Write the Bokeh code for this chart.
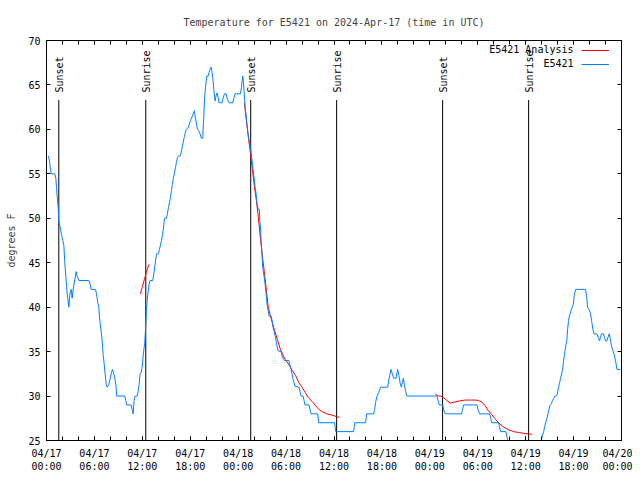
from math import pi
from bokeh.plotting import figure
from bokeh.models import FixedTicker, LinearAxis, Legend, LegendItem, Range1d, Label
from bokeh.core.properties import value
from bokeh.embed import file_html
from bokeh.resources import INLINE

# ---- data (x = hours since 2024-04-17 00:00 UTC) ----
obs_hours = [0.2, 0.25, 0.38, 0.5, 0.59, 1.04, 1.17, 1.25, 1.33, 1.46, 1.54, 1.75, 1.88, 2.04, 2.17, 2.29, 2.46, 2.59, 2.67, 2.8,
             2.92, 3.09, 3.21, 3.34, 3.55, 3.71, 3.84, 4.05, 5.3, 5.5, 5.59, 6.13, 6.26, 6.42, 6.55, 6.67, 6.84, 6.97, 7.09, 7.22,
             7.34, 7.47, 7.6, 7.8, 7.93, 8.1, 8.26, 8.43, 8.55, 8.68, 8.8, 9.8, 9.93, 10.05, 10.6, 10.72, 10.85, 10.97, 11.1, 11.35,
             11.47, 11.6, 11.72, 11.85, 11.97, 12.1, 12.3, 12.43, 12.5, 12.6, 12.73, 12.85, 12.97, 13.3, 13.43, 13.55, 13.68, 13.8, 14.0, 14.14,
             14.27, 14.4, 14.52, 14.64, 14.77, 15.02, 15.14, 15.27, 15.52, 15.64, 15.77, 15.9, 16.02, 16.15, 16.27, 16.4, 16.52, 16.77, 16.9, 17.02,
             17.15, 17.27, 17.4, 17.52, 17.73, 17.86, 18.02, 18.27, 18.52, 18.65, 18.77, 18.9, 19.1, 19.23, 19.4, 19.56, 19.69, 19.77, 19.9, 20.07,
             20.23, 20.36, 20.49, 20.61, 20.74, 20.86, 20.99, 21.11, 21.24, 21.36, 21.49, 21.61, 21.99, 22.11, 22.28, 22.49, 22.61, 22.86, 23.32, 23.45,
             23.62, 24.28, 24.41, 24.49, 24.57, 24.66, 24.74, 24.87, 24.99, 25.12, 25.24, 25.37, 25.49, 25.62, 25.74, 25.87, 25.99, 26.12, 26.24, 26.37,
             26.53, 26.66, 26.7, 26.82, 26.87, 27.0, 27.07, 27.24, 27.37, 27.5, 27.62, 27.75, 27.87, 28.12, 28.25, 28.37, 28.5, 28.62, 28.75, 28.87,
             29.0, 29.37, 29.5, 29.7, 29.83, 30.33, 30.45, 30.62, 30.75, 30.87, 31.0, 31.12, 31.62, 31.75, 31.87, 32.12, 32.25, 32.37, 32.87, 33.0,
             33.12, 33.96, 34.08, 36.08, 36.21, 38.46, 38.59, 39.96, 40.09, 40.96, 41.09, 41.21, 41.39, 41.59, 41.84, 42.72, 42.84, 42.97, 43.14, 43.3,
             43.47, 43.76, 43.89, 43.97, 44.14, 44.27, 44.43, 44.56, 44.68, 44.81, 44.97, 45.14, 48.9, 49.02, 49.19, 49.6, 49.72, 49.94, 51.98, 52.1,
             52.23, 53.9, 54.03, 54.23, 55.48, 55.61, 55.73, 56.61, 56.73, 56.86, 57.53, 57.66, 57.78, 58.2, 58.8, 61.0, 61.5, 61.95, 62.08, 62.25,
             62.37, 62.49, 62.66, 62.79, 62.91, 63.08, 63.2, 63.37, 63.5, 63.66, 63.83, 63.96, 64.12, 64.25, 64.37, 64.5, 64.62, 64.75, 64.87, 64.99,
             65.17, 65.25, 65.37, 65.5, 65.67, 65.83, 65.96, 66.08, 66.25, 67.5, 67.62, 67.75, 67.92, 68.09, 68.25, 68.42, 68.55, 68.92, 69.09, 69.25,
             69.37, 69.5, 69.75, 69.87, 70.0, 70.17, 70.3, 70.46, 70.58, 70.75, 70.93, 71.09, 71.25, 71.43, 71.84]
obs_temp = [57, 57, 56.4, 55.5, 55, 55, 54.5, 53.5, 52.5, 51.3, 49.7, 48.8, 48.2, 47.5, 47, 45, 43, 41.5, 41, 40,
            41.5, 42, 41, 42, 43.1, 44, 43.5, 43, 43, 42.5, 42, 42, 41.5, 40.5, 40, 38.5, 37.3, 36.2, 34.7, 33.6,
            32.5, 31.3, 31, 31.3, 31.8, 32.5, 33, 32.5, 32, 31.3, 30, 30, 29.5, 29, 29, 28.5, 28, 29.5, 30, 30,
            30.5, 31.3, 32.5, 32.6, 33.2, 34.5, 36, 38, 39.6, 40.7, 41.8, 42.6, 43, 43, 43.7, 44.5, 45.4, 46, 46, 46.5,
            47, 47.5, 48.2, 48.8, 50, 50, 50.5, 51.2, 52.3, 53.1, 53.8, 54.6, 55.1, 55.7, 56.3, 56.8, 57, 57, 57.6, 58.1,
            58.7, 59.2, 59.7, 60, 60.2, 60.5, 61, 61.5, 62.1, 61.3, 60.7, 60, 59.8, 59.5, 59, 59, 61.3, 63.2, 64.7, 66,
            66, 66.4, 66.8, 67, 66.4, 65.5, 64.1, 63.2, 63.8, 64.1, 63.6, 63, 63, 63.5, 64, 64, 63.5, 63, 63, 63.5,
            64, 64, 64.7, 65.5, 66, 65.3, 64.3, 62.5, 61.5, 60.4, 59.5, 58.7, 58.2, 57.4, 56.5, 55.5, 54.6, 53.5, 52.8, 51.6,
            51, 51, 49.7, 48.8, 47.5, 45.8, 44.5, 43.5, 42.6, 41.5, 40.3, 39.6, 39, 39, 38.5, 37.7, 37.3, 36.8, 36.2, 35.6,
            35.1, 35, 34.5, 34.1, 34, 34, 33.6, 33, 32.5, 31.9, 31.5, 31.1, 31, 30.5, 30, 30, 29.5, 29, 29, 28.5,
            28, 28, 27, 27, 26, 26, 27, 27, 28, 28, 28.5, 29.3, 30, 30.4, 31, 31, 31.7, 32.3, 33, 32.5,
            32, 32, 32.6, 33, 32.3, 31.5, 31, 31.5, 32, 31.3, 30.5, 30, 30, 29.5, 29, 29, 28.5, 28, 28, 28.5,
            29, 29, 28.5, 28, 28, 27.6, 27, 27, 26.5, 26, 26, 25.4, 25, 24, 23, 23, 24, 25, 25.5, 26,
            26.5, 27, 27.5, 28, 28.5, 29, 29.1, 29.5, 29.7, 30, 30, 30.2, 31, 31.5, 32, 32.5, 33, 34, 34.7, 35.5,
            36.4, 37.5, 38.5, 39.1, 39.6, 40, 40.3, 41.3, 42, 42, 41.3, 40, 39.8, 39.4, 38.5, 37.5, 37, 37, 36.6, 36.2,
            36.6, 37, 37, 36.6, 36.2, 36.2, 36.6, 37, 36.5, 35.6, 35.1, 34.6, 34, 33, 33]

an1_hours = [11.76, 12.0, 12.25, 12.5, 12.81]
an1_temp = [41.5, 42.3, 43.1, 43.9, 44.8]
an2_hours = [24.78, 25.03, 25.28, 25.53, 25.78, 26.03, 26.28, 26.53, 26.78, 27.0, 27.2, 27.5, 27.75, 28.1, 28.45, 28.9, 29.3,
             29.9, 30.3, 30.75, 31.2, 31.6, 32.0, 32.4, 32.8, 33.25, 33.7, 34.1, 34.5, 35.1, 35.75, 36.3, 36.7]
an2_temp = [63.0, 61.0, 59.1, 57.4, 55.5, 53.6, 52.0, 50.1, 47.8, 46.0, 44.5, 42.2, 40.1, 38.8, 37.7, 36.4, 35.2,
            34.1, 33.6, 32.9, 32.3, 31.5, 31.0, 30.4, 29.8, 29.4, 28.9, 28.5, 28.25, 28.0, 27.85, 27.7, 27.6]
an3_hours = [48.69, 49.1, 49.4, 49.73, 50.15, 50.56, 50.98, 51.4, 52.03, 52.44, 53.07, 53.7, 54.1, 54.53, 54.94, 55.36,
             55.78, 56.2, 56.61, 57.03, 57.45, 57.86, 58.49, 59.11, 59.74, 60.79]
an3_temp = [30.2, 30.0, 30.0, 29.8, 29.5, 29.2, 29.3, 29.4, 29.5, 29.55, 29.55, 29.55, 29.5, 29.3, 28.9, 28.3,
            27.9, 27.4, 27.0, 26.65, 26.4, 26.2, 26.0, 25.9, 25.8, 25.7]

sun_hours = [1.54, 12.43, 25.57, 36.33, 49.6, 60.37]
sun_labels = ["Sunset", "Sunrise", "Sunset", "Sunrise", "Sunset", "Sunrise"]
sun_line_top = 63.3
sun_label_base = 64.14

series_names = ["E5421 Analysis", "E5421"]

x_tick_hours = [0, 6, 12, 18, 24, 30, 36, 42, 48, 54, 60, 66, 72]
x_tick_labels = ["04/17\n00:00", "04/17\n06:00", "04/17\n12:00", "04/17\n18:00",
                 "04/18\n00:00", "04/18\n06:00", "04/18\n12:00", "04/18\n18:00",
                 "04/19\n00:00", "04/19\n06:00", "04/19\n12:00", "04/19\n18:00", "04/20\n00:00"]
x_minor_hours = list(range(0, 73, 2))
y_ticks = [25, 30, 35, 40, 45, 50, 55, 60, 65, 70]

FONT = "DejaVu Sans Mono"
BLUE = "#0080ff"

p = figure(width=632, height=474, output_backend="svg", toolbar_location=None,
           x_range=Range1d(0, 72), y_range=Range1d(25, 70),
           min_border_left=46, min_border_right=11, min_border_top=40, min_border_bottom=34,
           title="Temperature for E5421 on 2024-Apr-17 (time in UTC)")
p.grid.visible = False
p.outline_line_color = "black"
p.background_fill_color = "white"
p.border_fill_color = "white"

p.title.text_font = FONT
p.title.text_font_size = "10px"
p.title.text_font_style = "normal"
p.title.align = "center"
p.title.standoff = 26

xt = FixedTicker(ticks=x_tick_hours, minor_ticks=x_minor_hours)
yt = FixedTicker(ticks=y_ticks, minor_ticks=[])

def style_axis(ax, labels=True):
    ax.axis_line_color = "black"
    ax.major_tick_in = 4
    ax.major_tick_out = 0
    ax.minor_tick_in = 4
    ax.minor_tick_out = 0
    ax.major_tick_line_color = "black"
    ax.minor_tick_line_color = "black"
    ax.major_label_text_font = FONT
    if labels:
        ax.major_label_text_font_size = "10px"
        ax.major_label_text_color = "black"
    else:
        ax.major_label_text_font_size = "1px"
        ax.major_label_text_color = None
    ax.axis_label_text_font = FONT
    ax.axis_label_text_font_size = "10px"
    ax.axis_label_text_font_style = "normal"

bx = p.xaxis[0]
bx.ticker = xt
bx.major_label_overrides = {h: lab for h, lab in zip(x_tick_hours, x_tick_labels)}
style_axis(bx)
bx.major_label_standoff = 7

ly = p.yaxis[0]
ly.ticker = yt
style_axis(ly)
ly.minor_tick_in = 0
ly.major_label_standoff = 6
ly.axis_label = "degrees F"
ly.axis_label_standoff = 8

top_ax = LinearAxis(ticker=xt, major_label_standoff=0)
style_axis(top_ax, labels=False)
p.add_layout(top_ax, "above")
right_ax = LinearAxis(ticker=yt, major_label_standoff=0)
style_axis(right_ax, labels=False)
right_ax.minor_tick_in = 0
p.add_layout(right_ax, "right")

# sunrise / sunset markers
p.segment(x0=sun_hours, y0=[25] * len(sun_hours), x1=sun_hours, y1=[sun_line_top] * len(sun_hours),
          line_color="black", line_width=1)
p.text(x=sun_hours, y=[sun_label_base] * len(sun_hours), text=sun_labels, angle=pi / 2,
       text_align="left", text_baseline="middle", x_offset=1,
       text_font=value(FONT), text_font_size="10px", text_color="black")

r_an = p.multi_line(xs=[an1_hours, an2_hours, an3_hours], ys=[an1_temp, an2_temp, an3_temp],
                    line_color="red", line_width=1)
r_obs = p.line(obs_hours, obs_temp, line_color=BLUE, line_width=1)

# gnuplot-style key: sample lines at the right, right-aligned series names to their left
legend = Legend(items=[LegendItem(label=" ", renderers=[r_an]),
                       LegendItem(label=" ", renderers=[r_obs])],
                location=(535, 369), orientation="vertical",
                background_fill_alpha=0, border_line_alpha=0,
                padding=0, margin=0, spacing=0, label_standoff=0,
                glyph_width=28, glyph_height=14, label_height=14, label_width=1,
                label_text_color=None, label_text_font=FONT, label_text_font_size="10px")
p.add_layout(legend)
for i, name in enumerate(series_names):
    p.add_layout(Label(x=527, y=391 - 14 * i, x_units="screen", y_units="screen", text=name,
                       text_align="right", text_baseline="middle",
                       text_font=FONT, text_font_size="10px", text_color="black"))

open("out.html", "w").write(file_html(p, INLINE))
